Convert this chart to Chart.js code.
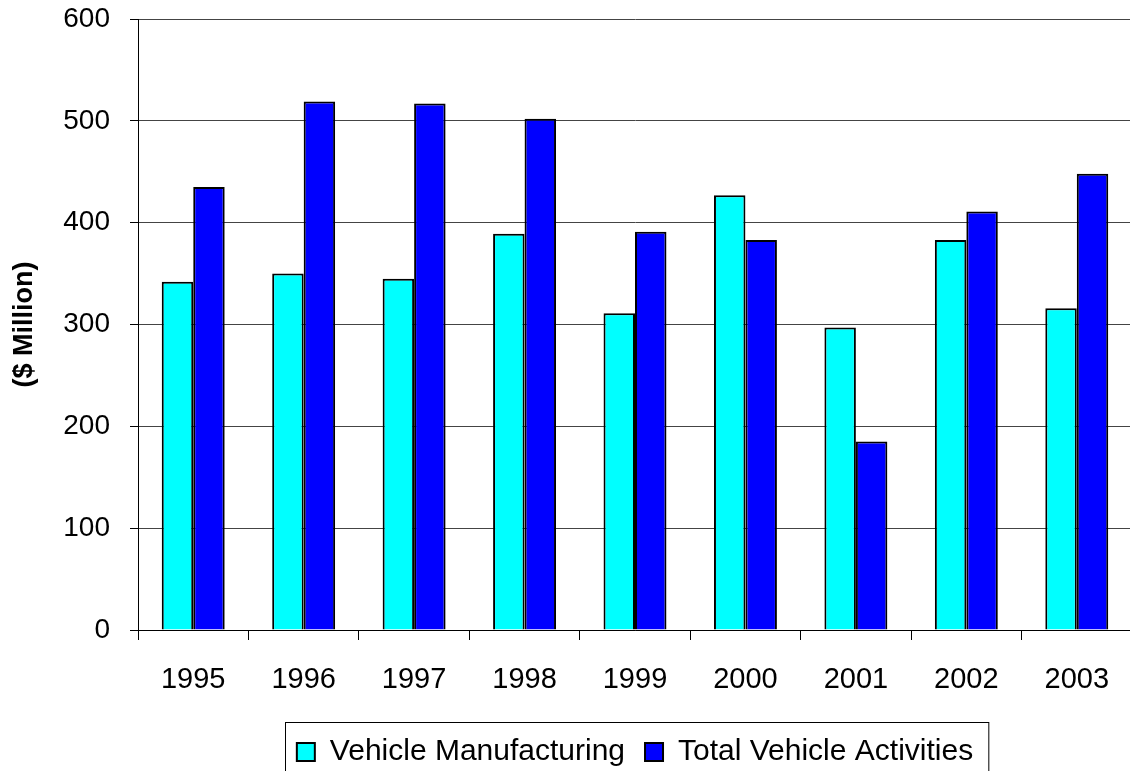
<!DOCTYPE html>
<html>
<head>
<meta charset="utf-8">
<title>Vehicle Activities</title>
<script src="https://cdn.jsdelivr.net/npm/chart.js@4/dist/chart.umd.min.js"></script>
<style>
    html, body {
        margin: 0;
        padding: 0;
        background: #ffffff;
        overflow: hidden;
    }

    #wrap {
        width: 1134px;
        height: 790px;
    }
</style>
</head>
<body>

<div id="wrap">
    <canvas id="chart"></canvas>
</div>

<script>

// ==========================================================
// DATA
// ==========================================================

const years = [
    "1995", "1996", "1997", "1998", "1999",
    "2000", "2001", "2002", "2003"
];

const vehicleManufacturing = [
    342, 350, 345, 389, 311, 427, 297, 383, 316
];

const totalVehicleActivities = [
    435, 519, 517, 502, 391, 383, 185, 411, 448
];

const yTicks = [0, 100, 200, 300, 400, 500, 600];

const FONT = "'Liberation Sans', Arial, sans-serif";

// ==========================================================
// LEGEND FRAME
// ==========================================================

const legendFrame = {

    id: "legendFrame",

    afterDraw(chart) {

        const legend = chart.legend;
        const boxes = legend.legendHitBoxes;

        if (!boxes || boxes.length === 0) return;

        const first = boxes[0];
        const last = boxes[boxes.length - 1];

        const left = first.left - 12;
        const right = last.left + last.width + 15;
        const top = legend.top + 5;
        const bottom = legend.bottom + 20;

        const ctx = chart.ctx;

        ctx.save();
        ctx.strokeStyle = "#000000";
        ctx.lineWidth = 1;
        ctx.strokeRect(
            Math.round(left) + 0.5,
            Math.round(top) + 0.5,
            right - left,
            bottom - top
        );
        ctx.restore();
    }
};

// ==========================================================
// CHART
// ==========================================================

const ctx = document.getElementById("chart").getContext("2d");

new Chart(ctx, {

    type: "bar",

    data: {

        labels: years,

        datasets: [

            {
                label: "Vehicle Manufacturing",
                data: vehicleManufacturing,
                backgroundColor: "#00ffff",
                borderColor: "#000000",
                borderWidth: 2
            },

            {
                label: "Total Vehicle Activities",
                data: totalVehicleActivities,
                backgroundColor: "#0000ff",
                borderColor: "#000000",
                borderWidth: 2
            }
        ]
    },

    options: {

        responsive: true,
        maintainAspectRatio: false,
        animation: false,

        layout: {
            padding: { top: 19, right: 2, bottom: 13, left: 0 }
        },

        datasets: {
            bar: {
                categoryPercentage: 0.57,
                barPercentage: 1
            }
        },

        plugins: {

            legend: {
                position: "bottom",
                fullSize: false,
                labels: {
                    color: "#000000",
                    boxWidth: 18,
                    boxHeight: 18,
                    padding: 20,
                    font: { family: FONT, size: 30 }
                }
            },

            tooltip: { enabled: false }
        },

        scales: {

            x: {
                afterFit(scale) {
                    scale.height = 87;
                },
                grid: {
                    offset: true,
                    drawOnChartArea: false,
                    drawTicks: true,
                    tickLength: 10,
                    tickColor: "#000000"
                },
                border: { color: "#000000", width: 1 },
                ticks: {
                    color: "#000000",
                    padding: 23,
                    maxRotation: 0,
                    font: { family: FONT, size: 29 }
                }
            },

            y: {
                min: 0,
                max: 600,
                afterFit(scale) {
                    scale.width = 138;
                    scale.paddingTop = 0;
                    scale.paddingBottom = 0;
                },
                afterBuildTicks(scale) {
                    scale.ticks = yTicks.map(v => ({ value: v }));
                },
                grid: {
                    color: "#444444",
                    lineWidth: 1,
                    tickLength: 8,
                    tickColor: "#000000"
                },
                border: { color: "#000000", width: 1 },
                ticks: {
                    color: "#000000",
                    padding: 20,
                    font: { family: FONT, size: 28 }
                },
                title: {
                    display: true,
                    text: "($ Million)",
                    color: "#000000",
                    padding: { top: 8, bottom: 0 },
                    font: { family: FONT, size: 27, weight: "bold" }
                }
            }
        }
    },

    plugins: [legendFrame]
});

</script>
</body>
</html>
